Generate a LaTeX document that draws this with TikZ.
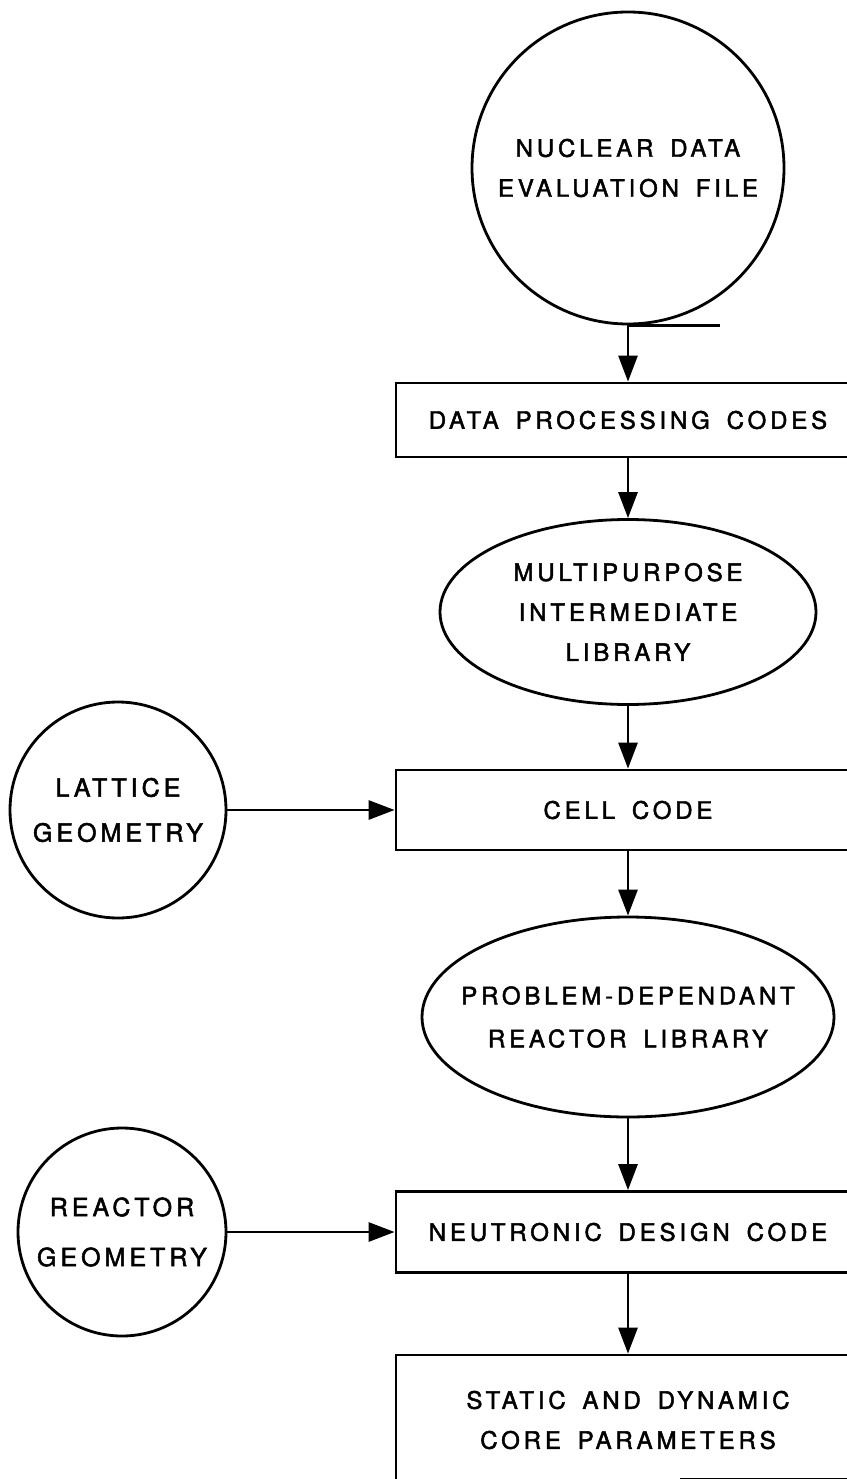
\documentclass[tikz,border=0pt]{standalone}
\usepackage{fontspec}
\newfontfamily\lettering[LetterSpace=16,WordSpace=1.6,FakeBold=2]{TeX Gyre Heros}
\usetikzlibrary{shapes.geometric,arrows.meta}
\begin{document}
\begin{tikzpicture}[x=1pt,y=-1pt,
  every node/.style={font=\lettering\fontsize{24}{40}\selectfont, align=center, inner sep=0pt, line width=2.8pt},
  every label/.style={draw=none, font=\lettering\fontsize{24}{40}\selectfont, align=center, inner sep=0pt},
  stepbox/.style={draw, rectangle, minimum width=464pt},
  roundbox/.style={draw, circle},
  ovalbox/.style={draw, ellipse},
  flow/.style={line width=2.8pt, -{Triangle[length=26pt,width=19pt]}},
  stray/.style={line width=2.8pt}
]
\useasboundingbox (0,0) rectangle (846,1479);

\node[roundbox, minimum size=312pt] (ndef) at (628,168) {NUCLEAR DATA\\EVALUATION FILE};
\node[stepbox, minimum height=74pt] (dpc) at (628,420) {DATA PROCESSING CODES};
\node[ovalbox, minimum width=376pt, minimum height=185pt,
  label={[name=miltext]center:MULTIPURPOSE\\INTERMEDIATE\\LIBRARY}] (mil) at (628,612) {};
\node[stepbox, minimum height=80pt] (cell) at (628,810) {CELL CODE};
\node[roundbox, minimum size=216pt, font=\lettering\fontsize{25}{45}\selectfont] (lat) at (118,810) {LATTICE\\GEOMETRY};
\node[ovalbox, minimum width=412pt, minimum height=200pt,
  label={[name=pdrltext, font=\lettering\fontsize{24}{43}\selectfont]center:PROBLEM-DEPENDANT\\REACTOR LIBRARY}] (pdrl) at (628,1017) {};
\node[stepbox, minimum height=81pt] (ndc) at (628,1232) {NEUTRONIC DESIGN CODE};
\node[roundbox, minimum size=208pt, font=\lettering\fontsize{25}{50}\selectfont] (rg) at (122,1232) {REACTOR\\GEOMETRY};
\node[stepbox, minimum height=130pt] (scp) at (628,1420) {STATIC AND DYNAMIC\\CORE PARAMETERS};

\draw[flow] (ndef.south) -- (dpc.north);
\draw[flow] (dpc.south) -- (mil.north);
\draw[flow] (mil.south) -- (cell.north);
\draw[flow] (cell.south) -- (pdrl.north);
\draw[flow] (pdrl.south) -- (ndc.north);
\draw[flow] (ndc.south) -- (scp.north);
\draw[flow] (lat.east) -- (cell.west);
\draw[flow] (rg.east) -- (ndc.west);

\draw[stray] (ndef.south) -- ++(92,0);
\draw[stray] ([shift={(52,-7)}]scp.south) -- ([shift={(240,-7)}]scp.south);
\end{tikzpicture}
\end{document}
